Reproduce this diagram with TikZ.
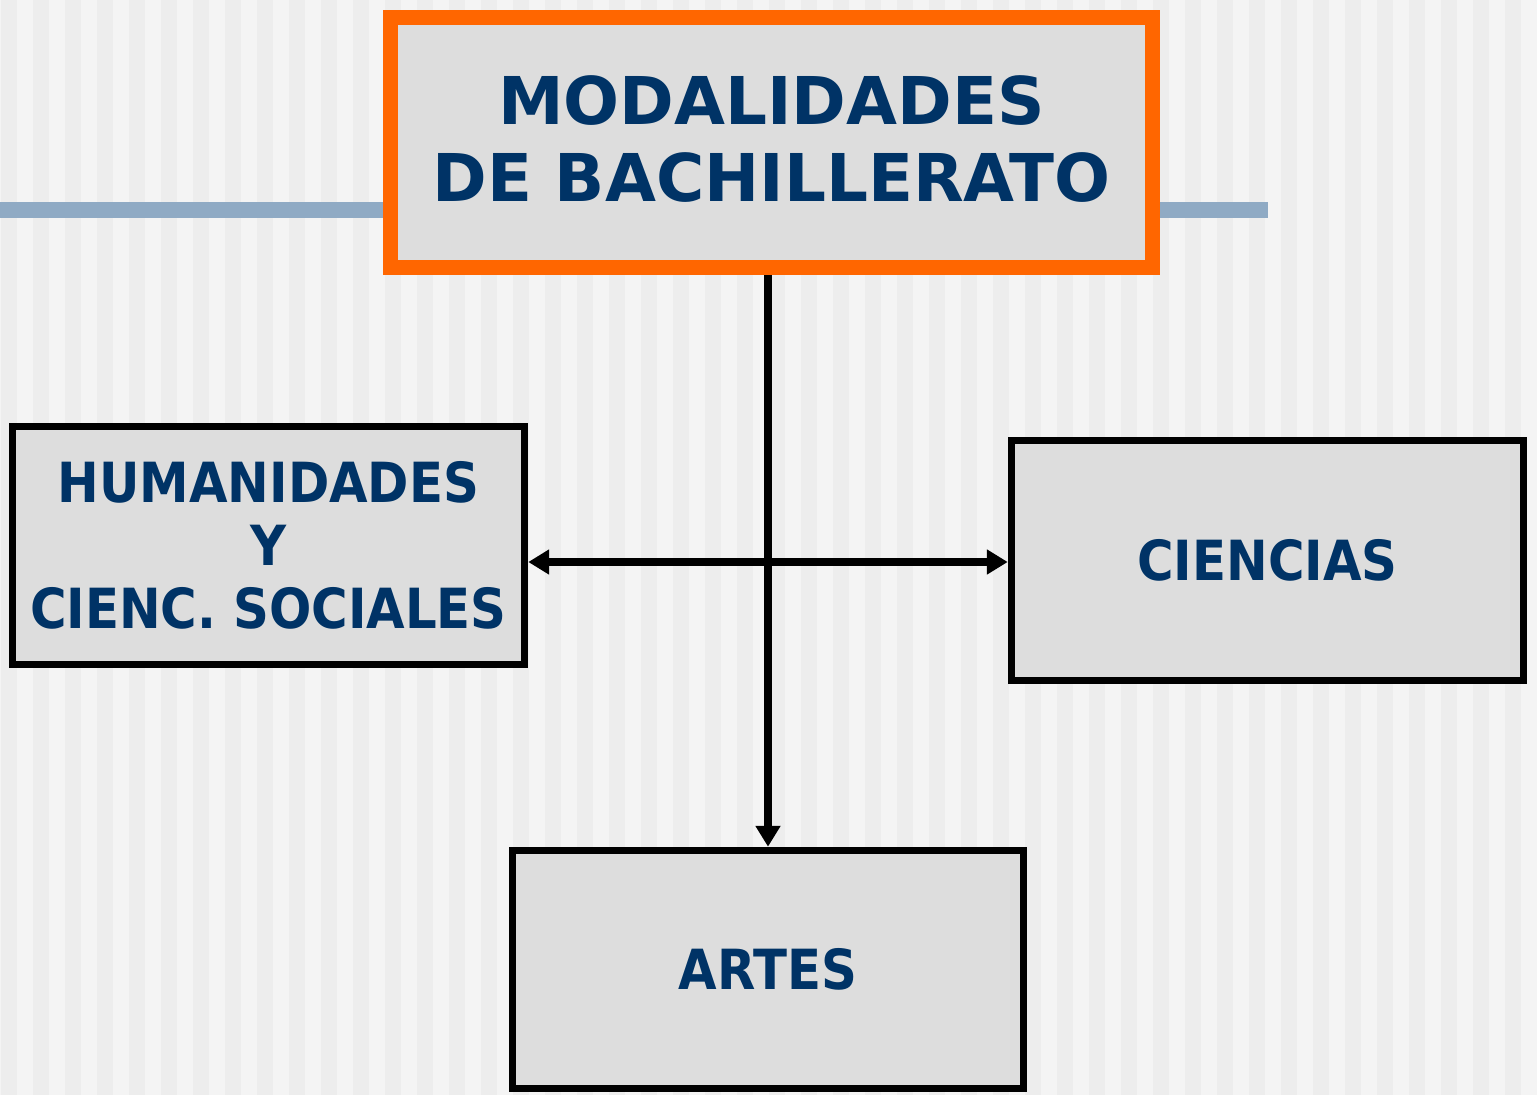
\documentclass[tikz,border=0pt]{standalone}
\usepackage{fontspec}
\setmainfont{DejaVu Sans}
\newfontfamily\condfont{DejaVu Sans Condensed}
\usetikzlibrary{arrows.meta}
\definecolor{stripeA}{HTML}{EDEDED}
\definecolor{stripeB}{HTML}{F4F4F4}
\definecolor{boxfill}{HTML}{DDDDDD}
\definecolor{navy}{HTML}{003366}
\definecolor{orangeB}{HTML}{FF6600}
\definecolor{steel}{HTML}{8FAAC4}
\tikzset{
  modbox/.style={draw=black, line width=4.3pt, fill=boxfill, text=navy, font=\condfont\bfseries\fontsize{31.5}{36}\selectfont, align=center, inner sep=0pt},
  topbox/.style={draw=orangeB, line width=8.5pt, fill=boxfill, inner sep=0pt},
  toptext/.style={text=navy, font=\bfseries\fontsize{37.5}{43.7}\selectfont, align=center, inner sep=0pt},
  conn/.style={line width=4.3pt, black, -{Triangle[length=11.9pt,width=13.6pt]}},
  conn2/.style={line width=4.3pt, black, {Triangle[length=11.9pt,width=13.6pt]}-{Triangle[length=11.9pt,width=13.6pt]}}
}
\begin{document}
\begin{tikzpicture}[x=0.02cm,y=-0.02cm]
\useasboundingbox (0,0) rectangle (1537,1095);
\fill[stripeB] (0,0) rectangle (1537,1095);
\foreach \i in {0,...,47} {
  \fill[stripeA] ({1+32*\i},0) rectangle ({17+32*\i},1095);
}
\fill[steel] (0,202) rectangle (1268,218);
\node[topbox, minimum width=762*0.02cm, minimum height=250*0.02cm] (top) at (771.5,142.5) {};
\node[toptext] (toplabel) at (771.5,139) {MODALIDADES\\DE BACHILLERATO};
\node[modbox, minimum width=512*0.02cm, minimum height=238*0.02cm] (hum) at (268.5,545.5) {HUMANIDADES\\Y\\CIENC. SOCIALES};
\node[modbox, minimum width=512*0.02cm, minimum height=240*0.02cm] (cien) at (1267.5,560.5) {CIENCIAS};
\node[modbox, minimum width=511*0.02cm, minimum height=238*0.02cm] (artes) at (768,969.5) {ARTES};
\coordinate (hmid) at (768,562);
\draw[conn] (top.south -| artes.north) -- (artes.north);
\draw[conn2] (hum.east |- hmid) -- (cien.west |- hmid);
\end{tikzpicture}
\end{document}
